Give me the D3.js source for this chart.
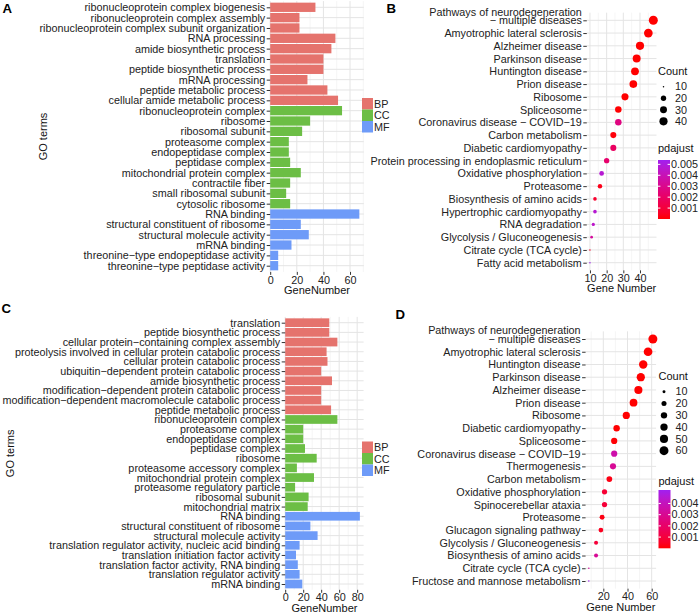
<!DOCTYPE html>
<html><head><meta charset="utf-8">
<script src="https://cdn.jsdelivr.net/npm/d3@7"></script>
<style>
body{margin:0;background:#fff}
svg{display:block}
text{font-family:"Liberation Sans",Arial,Helvetica,sans-serif}
</style>
</head><body>
<svg id="chart" width="699" height="613"></svg>
<script>
// ---------------- DATA ----------------
const ontologyLevels = ["BP", "CC", "MF"];

const goA_terms = [
  "ribonucleoprotein complex biogenesis","ribonucleoprotein complex assembly",
  "ribonucleoprotein complex subunit organization","RNA processing","amide biosynthetic process",
  "translation","peptide biosynthetic process","mRNA processing","peptide metabolic process",
  "cellular amide metabolic process","ribonucleoprotein complex","ribosome","ribosomal subunit",
  "proteasome complex","endopeptidase complex","peptidase complex","mitochondrial protein complex",
  "contractile fiber","small ribosomal subunit","cytosolic ribosome","RNA binding",
  "structural constituent of ribosome","structural molecule activity","mRNA binding",
  "threonine\u2212type endopeptidase activity","threonine\u2212type peptidase activity"];
const goA_counts = [34,22,22,49,46,40,40,28,43,51,54,30,24,14,14,15,23,15,12,15,67,23,29,16,6,6];
const goA_ontology = ["BP","BP","BP","BP","BP","BP","BP","BP","BP","BP",
  "CC","CC","CC","CC","CC","CC","CC","CC","CC","CC","MF","MF","MF","MF","MF","MF"];
const goA_xticks = [0,20,40,60];

const goC_terms = [
  "translation","peptide biosynthetic process","cellular protein\u2212containing complex assembly",
  "proteolysis involved in cellular protein catabolic process","cellular protein catabolic process",
  "ubiquitin\u2212dependent protein catabolic process","amide biosynthetic process",
  "modification\u2212dependent protein catabolic process",
  "modification\u2212dependent macromolecule catabolic process","peptide metabolic process",
  "ribonucleoprotein complex","proteasome complex","endopeptidase complex","peptidase complex",
  "ribosome","proteasome accessory complex","mitochondrial protein complex",
  "proteasome regulatory particle","ribosomal subunit","mitochondrial matrix","RNA binding",
  "structural constituent of ribosome","structural molecule activity",
  "translation regulator activity, nucleic acid binding","translation initiation factor activity",
  "translation factor activity, RNA binding","translation regulator activity","mRNA binding"];
const goC_counts = [49,49,58,46,47,40,52,40,40,51,58,20,20,22,35,13,32,11,26,25,83,28,36,16,12,14,16,19];
const goC_ontology = ["BP","BP","BP","BP","BP","BP","BP","BP","BP","BP",
  "CC","CC","CC","CC","CC","CC","CC","CC","CC","CC","MF","MF","MF","MF","MF","MF","MF","MF"];
const goC_xticks = [0,20,40,60,80];

const keggB_terms = [
  "Pathways of neurodegeneration\n\u2212 multiple diseases","Amyotrophic lateral sclerosis",
  "Alzheimer disease","Parkinson disease","Huntington disease","Prion disease","Ribosome",
  "Spliceosome","Coronavirus disease \u2212 COVID\u221219","Carbon metabolism",
  "Diabetic cardiomyopathy","Protein processing in endoplasmic reticulum",
  "Oxidative phosphorylation","Proteasome","Biosynthesis of amino acids",
  "Hypertrophic cardiomyopathy","RNA degradation","Glycolysis / Gluconeogenesis",
  "Citrate cycle (TCA cycle)","Fatty acid metabolism"];
const keggB_counts = [48,45,40,38,37,36,31,27,27,24,24,20,17,16,13,13,12,11,10,10];
const keggB_padj = [1e-12,1e-11,1e-10,1e-10,1e-9,1e-9,1e-8,2e-5,0.0027,0.0001,0.0019,0.0022,
  0.0047,0.0003,0.0007,0.0047,0.0045,0.0034,0.0005,0.0054];
const keggB_xticks = [10,20,30,40];
const keggB_sizeBreaks = [10,20,30,40];
const keggB_padjBreaks = [0.001,0.002,0.003,0.004,0.005];

const keggD_terms = [
  "Pathways of neurodegeneration\n\u2212 multiple diseases","Amyotrophic lateral sclerosis",
  "Huntington disease","Parkinson disease","Alzheimer disease","Prion disease","Ribosome",
  "Diabetic cardiomyopathy","Spliceosome","Coronavirus disease \u2212 COVID\u221219",
  "Thermogenesis","Carbon metabolism","Oxidative phosphorylation","Spinocerebellar ataxia",
  "Proteasome","Glucagon signaling pathway","Glycolysis / Gluconeogenesis",
  "Biosynthesis of amino acids","Citrate cycle (TCA cycle)","Fructose and mannose metabolism"];
const keggD_counts = [61,57,53,51,49,45,39,31,29,29,28,25,21,21,19,18,14,14,8,8];
const keggD_padj = [1e-14,1e-13,1e-12,1e-12,1e-11,1e-10,1e-9,1e-5,5e-5,0.0036,0.0031,0.0002,
  0.0008,0.0009,0.0002,0.0004,0.0009,0.0031,0.0033,0.0052];
const keggD_xticks = [20,40,60];
const keggD_sizeBreaks = [10,20,30,40,50,60];
const keggD_padjBreaks = [0.001,0.002,0.003,0.004];

// ---------------- STYLE ----------------
const ontologyColors = ["#E5736D","#6CBE45","#6E9BF8"];
const FS = 10.8, TXT = "#222", GRID = "#E4E4E4", GRIDMINOR = "#EFEFEF", TICK = "#333";

const svg = d3.select("#chart");
svg.append("rect").attr("width",699).attr("height",613).attr("fill","#fff");

function grid(g, x, y, top, bottom, left, right, majors, minors) {
  g.selectAll(null).data(minors).join("line")
    .attr("x1", d => x(d)).attr("x2", d => x(d)).attr("y1", top).attr("y2", bottom)
    .attr("stroke", GRIDMINOR).attr("stroke-width", 0.6);
  g.selectAll(null).data(majors).join("line")
    .attr("x1", d => x(d)).attr("x2", d => x(d)).attr("y1", top).attr("y2", bottom)
    .attr("stroke", GRID).attr("stroke-width", 1);
  g.selectAll(null).data(y.domain()).join("line")
    .attr("x1", left).attr("x2", right).attr("y1", d => y(d)).attr("y2", d => y(d))
    .attr("stroke", GRID).attr("stroke-width", 1);
}

function axes(g, x, y, left, bottom, xticks, xTitle) {
  const ay = g.append("g").attr("transform", `translate(${left},0)`)
    .call(d3.axisLeft(y).tickSize(3.5).tickPadding(1.5));
  ay.select(".domain").remove();
  ay.selectAll("line").attr("stroke", TICK);
  ay.selectAll("text").attr("font-size", FS).attr("fill", TXT).attr("font-family", null)
    .each(function(d) {
      const parts = d.split("\n");
      if (parts.length > 1) {
        const t = d3.select(this), xx = t.attr("x");
        t.text(null).attr("dy", null);
        parts.forEach((p, i) => t.append("tspan").attr("x", xx)
          .attr("y", -(parts.length - 1 - i) * 8.6).attr("dy", "0.32em").text(p));
      }
    });
  const ax = g.append("g").attr("transform", `translate(0,${bottom})`)
    .call(d3.axisBottom(x).tickValues(xticks).tickSize(3).tickPadding(1));
  ax.select(".domain").remove();
  ax.selectAll("line").attr("stroke", TICK);
  ax.selectAll("text").attr("font-size", FS).attr("fill", TXT).attr("font-family", null);
  const r = x.range();
  g.append("text").attr("x", (r[0] + r[1]) / 2).attr("y", bottom + 22)
    .attr("text-anchor", "middle").attr("font-size", 11).attr("fill", "#111").text(xTitle);
}

function barPanel(cfg, terms, counts, ont, xticks) {
  const g = svg.append("g");
  const n = terms.length, step = (cfg.rowLast - cfg.rowFirst) / (n - 1);
  const top = cfg.rowFirst - 0.6 * step, bottom = cfg.rowLast + 0.6 * step;
  const y = d3.scalePoint().domain(terms).range([cfg.rowFirst, cfg.rowLast]);
  const x = d3.scaleLinear().domain([0, d3.max(counts) * 1.05]).range([cfg.left, cfg.right]);
  const color = d3.scaleOrdinal().domain(ontologyLevels).range(ontologyColors);
  const majors = xticks, minors = d3.range(10, x.domain()[1], 20);
  grid(g, x, y, top, bottom, cfg.left, cfg.right, majors, minors);
  const bh = step * 0.9;
  g.selectAll(null).data(terms).join("rect")
    .attr("x", x(0)).attr("y", d => y(d) - bh / 2)
    .attr("width", (d, i) => x(counts[i]) - x(0)).attr("height", bh)
    .attr("fill", (d, i) => color(ont[i]));
  axes(g, x, y, cfg.left, bottom, xticks, "GeneNumber");
  g.append("text").attr("transform", `translate(${cfg.yTitleX},${(top + bottom) / 2}) rotate(-90)`)
    .attr("text-anchor", "middle").attr("dy", "0.35em").attr("font-size", 11).attr("fill", "#111")
    .text("GO terms");
  // legend
  const kh = 11.5;
  const lg = g.append("g").attr("transform", `translate(${cfg.legX},${cfg.legY})`);
  ontologyLevels.forEach((lv, i) => {
    lg.append("rect").attr("x", 0).attr("y", i * kh).attr("width", 11).attr("height", kh)
      .attr("fill", color(lv));
    lg.append("text").attr("x", 12).attr("y", i * kh + kh / 2).attr("dy", "0.35em")
      .attr("font-size", FS).attr("fill", TXT).text(lv);
  });
}

function dotPanel(cfg, terms, counts, padj, xticks, sizeBreaks, padjBreaks) {
  const g = svg.append("g");
  const n = terms.length, step = (cfg.rowLast - cfg.rowFirst) / (n - 1);
  const top = cfg.rowFirst - 0.6 * step, bottom = cfg.rowLast + 0.6 * step;
  const y = d3.scalePoint().domain(terms).range([cfg.rowFirst, cfg.rowLast]);
  const ext = d3.extent(counts), span = ext[1] - ext[0];
  const x = d3.scaleLinear().domain([ext[0] - 0.05 * span, ext[1] + 0.05 * span]).range([cfg.left, cfg.right]);
  const norm = d3.scaleLinear().domain(ext).range([0, 1]).clamp(true);
  const diam = d3.scaleLinear().domain([0, 1]).range([1.5, 9]);
  const radius = v => diam(Math.sqrt(norm(v))) / 2;
  const pext = d3.extent(padj);
  const color = d3.scaleLinear().domain(pext).range(["#FF0000", "#A020F0"]).interpolate(d3.interpolateLab);
  const majors = xticks;
  const minors = d3.range(0, 100, xticks[1] - xticks[0]).map(v => v + (xticks[1] - xticks[0]) / 2)
    .filter(v => v > x.domain()[0] && v < x.domain()[1] && !xticks.includes(v));
  grid(g, x, y, top, bottom, cfg.left, cfg.right, majors, minors);
  g.selectAll(null).data(terms).join("circle")
    .attr("cx", (d, i) => x(counts[i])).attr("cy", d => y(d))
    .attr("r", (d, i) => radius(counts[i])).attr("fill", (d, i) => color(padj[i]));
  axes(g, x, y, cfg.left, bottom, xticks, "Gene Number");
  // size legend
  const sl = g.append("g").attr("transform", `translate(${cfg.legX},0)`);
  sl.append("text").attr("x", 0).attr("y", cfg.countY).attr("dy", "0.35em")
    .attr("font-size", 11).attr("fill", "#111").text("Count");
  sizeBreaks.forEach((b, i) => {
    const yy = cfg.sizeY0 + i * cfg.sizeStep;
    sl.append("circle").attr("cx", 5.5).attr("cy", yy).attr("r", radius(b)).attr("fill", "#000");
    sl.append("text").attr("x", 17).attr("y", yy).attr("dy", "0.35em")
      .attr("font-size", FS).attr("fill", TXT).text(b);
  });
  // colour bar
  sl.append("text").attr("x", 0).attr("y", cfg.padjTitleY).attr("dy", "0.35em")
    .attr("font-size", 11).attr("fill", "#111").text("pdajust");
  const gid = "grad" + cfg.id;
  const grad = svg.append("defs").append("linearGradient").attr("id", gid)
    .attr("x1", 0).attr("x2", 0).attr("y1", 1).attr("y2", 0);
  d3.range(0, 1.0001, 0.1).forEach(t => grad.append("stop").attr("offset", t)
    .attr("stop-color", color(pext[0] + t * (pext[1] - pext[0]))));
  const cb = d3.scaleLinear().domain(pext).range([cfg.barBottom, cfg.barTop]);
  sl.append("rect").attr("x", 0).attr("y", cfg.barTop).attr("width", 12)
    .attr("height", cfg.barBottom - cfg.barTop).attr("fill", `url(#${gid})`);
  padjBreaks.forEach(b => {
    const yy = cb(b);
    sl.append("line").attr("x1", 0).attr("x2", 2.4).attr("y1", yy).attr("y2", yy).attr("stroke", "#fff");
    sl.append("line").attr("x1", 9.6).attr("x2", 12).attr("y1", yy).attr("y2", yy).attr("stroke", "#fff");
    sl.append("text").attr("x", 13).attr("y", yy).attr("dy", "0.35em")
      .attr("font-size", FS).attr("fill", TXT).text(d3.format(".3f")(b));
  });
}

barPanel({rowFirst: 7.3, rowLast: 265.7, left: 270.2, right: 363.8, yTitleX: 43, legX: 362, legY: 98},
  goA_terms, goA_counts, goA_ontology, goA_xticks);
barPanel({rowFirst: 322.7, rowLast: 584, left: 285.2, right: 363.6, yTitleX: 10, legX: 362, legY: 441.5},
  goC_terms, goC_counts, goC_ontology, goC_xticks);
dotPanel({id: "B", rowFirst: 20.3, rowLast: 262.7, left: 586.8, right: 656.5, legX: 658,
  countY: 71, sizeY0: 86.7, sizeStep: 11.55, padjTitleY: 148.3, barTop: 160, barBottom: 219},
  keggB_terms, keggB_counts, keggB_padj, keggB_xticks, keggB_sizeBreaks, keggB_padjBreaks);
dotPanel({id: "D", rowFirst: 339, rowLast: 581, left: 585.6, right: 656.1, legX: 658.5,
  countY: 376, sizeY0: 391.7, sizeStep: 11.8, padjTitleY: 480.7, barTop: 490, barBottom: 548.3},
  keggD_terms, keggD_counts, keggD_padj, keggD_xticks, keggD_sizeBreaks, keggD_padjBreaks);

// panel letters
[["A", 2.5, 13.4], ["B", 386.5, 13.4], ["C", 1.5, 312.7], ["D", 395.5, 319.4]].forEach(([t, x, y]) =>
  svg.append("text").attr("x", x).attr("y", y).attr("font-size", 13.2).attr("font-weight", "bold")
    .attr("fill", "#000").text(t));
</script>
</body></html>
